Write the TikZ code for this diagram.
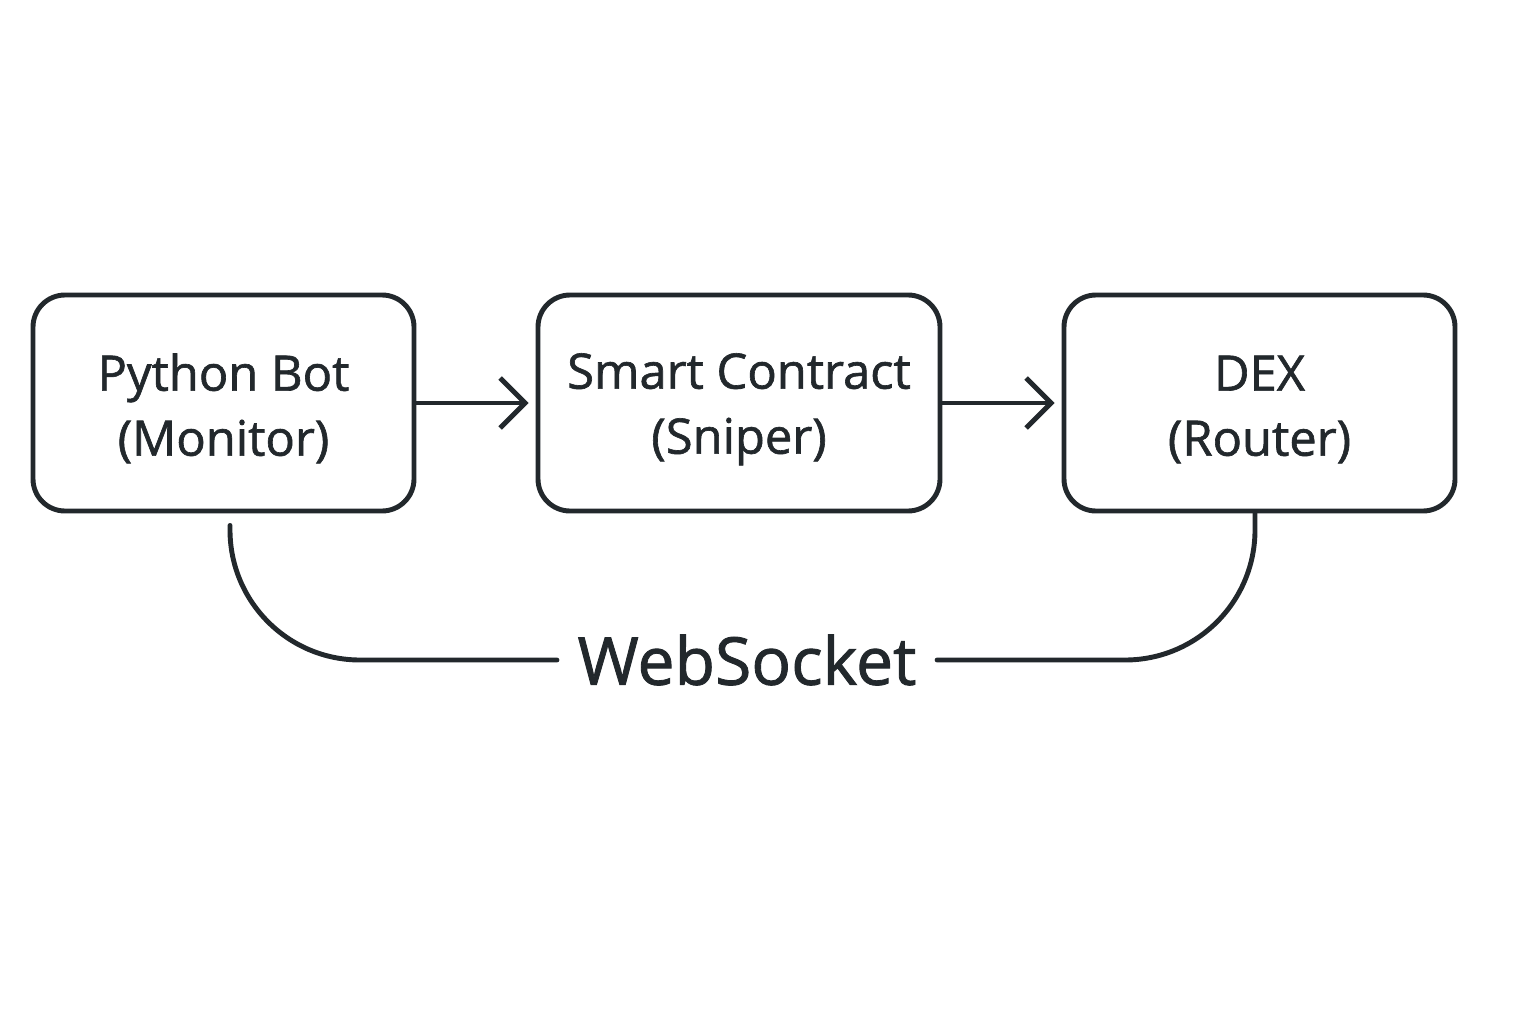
\documentclass[tikz,border=0pt]{standalone}
\usepackage{fontspec}
\setmainfont{Open Sans}[FakeBold=1.3]
\usetikzlibrary{arrows.meta,positioning}
\definecolor{ink}{HTML}{22282C}
\begin{document}
\begin{tikzpicture}[
    box/.style={draw=ink, line width=1.4pt, rounded corners=0.32cm, minimum height=2.16cm,
        align=center, text=ink, font=\fontsize{13.9pt}{18.5pt}\selectfont},
    flow/.style={draw=ink, line width=1.4pt, line cap=round, -{Straight Barb[length=2.5mm,width=5mm,line width=1.4pt]}, shorten >=0.07cm},
    wire/.style={draw=ink, line width=1.4pt, line cap=round, rounded corners=1.3cm}
  ]
  \useasboundingbox (0,0) rectangle (15.36,10.24);
  \node[box, minimum width=3.81cm] (bot) at (2.235,6.21) {\rule{0pt}{0.48cm}Python Bot\\(Monitor)};
  \node[box, minimum width=4.02cm] (sniper) at (7.39,6.21) {\rule{0pt}{0.48cm}Smart Contract\\(Sniper)};
  \node[box, minimum width=3.91cm] (dex) at (12.595,6.21) {\rule{0pt}{0.48cm}DEX\\(Router)};
  \node[text=ink, inner xsep=0.2cm, font=\fontsize{18.8pt}{22pt}\selectfont] (ws) at (7.47,3.64) {WebSocket};
  \draw[flow] (bot.east) -- (sniper.west);
  \draw[flow] (sniper.east) -- (dex.west);
  \draw[wire] ([xshift=0.065cm,yshift=-0.12cm]bot.south) |- (ws.west);
  \draw[wire] (ws.east) -| ([xshift=-0.045cm]dex.south);
\end{tikzpicture}
\end{document}
